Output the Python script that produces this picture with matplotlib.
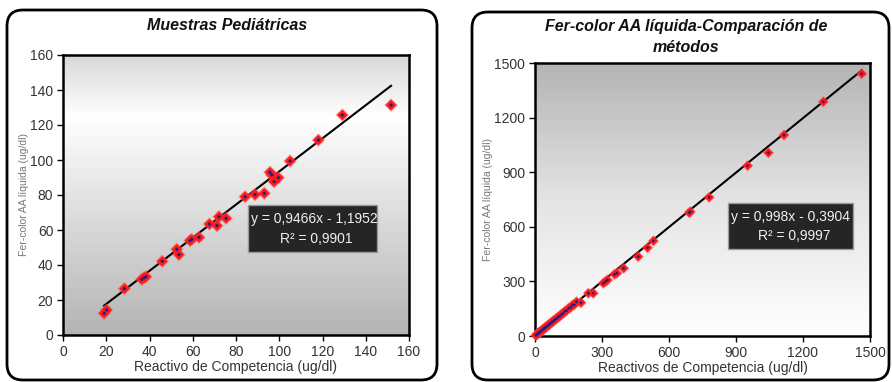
import matplotlib
matplotlib.use("Agg")
import matplotlib.pyplot as plt
import numpy as np
from matplotlib.patches import FancyBboxPatch
from matplotlib.colors import LinearSegmentedColormap

plt.rcParams['font.family'] = ['Liberation Sans', 'DejaVu Sans']

# ---------------- data ----------------
ped_title = "Muestras Pediátricas"
ped_xlabel = "Reactivo de Competencia (ug/dl)"
ped_ylabel = "Fer-color AA líquida (ug/dl)"
ped_x = [19.0, 20.2, 28.4, 36.4, 37.5, 38.4, 45.9, 52.6, 53.6, 58.7, 59.5, 62.9,
         67.7, 71.2, 72.1, 75.4, 84.2, 88.8, 93.1, 95.7, 96.5, 97.6, 99.6, 105.0,
         118.1, 129.2, 151.7]
ped_y = [12.4, 14.3, 26.5, 31.8, 32.8, 33.3, 42.1, 49.0, 45.9, 53.9, 54.6, 55.8,
         63.4, 62.5, 67.6, 66.7, 79.0, 80.2, 81.0, 93.0, 91.5, 87.6, 89.9, 99.4,
         111.4, 125.7, 131.4]
ped_slope, ped_intercept = 0.9466, -1.1952
ped_fit_range = [19.0, 151.7]
ped_eq = "y = 0,9466x - 1,1952"
ped_r2 = "R² = 0,9901"
ped_xticks = [0, 20, 40, 60, 80, 100, 120, 140, 160]
ped_yticks = [0, 20, 40, 60, 80, 100, 120, 140, 160]

cmp_title = "Fer-color AA líquida-Comparación de\nmétodos"
cmp_xlabel = "Reactivos de Competencia (ug/dl)"
cmp_ylabel = "Fer-color AA líquida (ug/dl)"
cmp_x = [4, 7, 10, 13, 16, 19, 22, 26, 29, 33, 37, 41, 45, 49, 53, 58, 63, 67,
         72, 77, 82, 87, 93, 99, 105, 112, 119, 126, 134, 142, 150, 160, 168,
         176, 186, 206, 239, 261, 306, 316, 325, 356, 367, 397, 462, 504, 530,
         691, 695, 780, 952, 1045, 1115, 1291, 1463]
cmp_y = [3, 6, 11, 12, 17, 18, 23, 25, 30, 32, 38, 40, 46, 48, 54, 57, 64, 66,
         73, 76, 83, 86, 94, 98, 106, 110, 120, 124, 136, 140, 152, 157, 170,
         172, 188, 183, 235, 235, 290, 300, 308, 339, 345, 372, 436, 485, 522,
         677, 683, 762, 936, 1007, 1104, 1287, 1441]
cmp_slope, cmp_intercept = 0.998, -0.3904
cmp_fit_range = [4, 1463]
cmp_eq = "y = 0,998x - 0,3904"
cmp_r2 = "R² = 0,9997"
cmp_xticks = [0, 300, 600, 900, 1200, 1500]
cmp_yticks = [0, 300, 600, 900, 1200, 1500]

# ---------------- figure ----------------
W, H = 893, 382
fig = plt.figure(figsize=(W / 100, H / 100), dpi=100)
fig.patch.set_facecolor("white")

bg = fig.add_axes([0, 0, 1, 1])
bg.set_xlim(0, W)
bg.set_ylim(H, 0)
bg.axis("off")
bg.add_patch(FancyBboxPatch((7, 10), 430, 370, boxstyle="round,pad=0,rounding_size=16",
                            facecolor="white", edgecolor="black", linewidth=2.0))
bg.add_patch(FancyBboxPatch((472, 12), 417, 368, boxstyle="round,pad=0,rounding_size=16",
                            facecolor="white", edgecolor="black", linewidth=2.0))


def px_axes(x0, y0, x1, y1):
    return fig.add_axes([x0 / W, (H - y1) / H, (x1 - x0) / W, (y1 - y0) / H])


def gradient(ax, colors, positions):
    cmap = LinearSegmentedColormap.from_list("g", list(zip(positions, colors)))
    grad = np.linspace(0, 1, 256).reshape(-1, 1)
    ax.imshow(grad, cmap=cmap, aspect="auto", extent=[0, 1, 0, 1],
              transform=ax.transAxes, zorder=0, origin="upper")


def style(ax, xticks, yticks, xlabel, ylabel):
    ax.set_xlim(xticks[0], xticks[-1])
    ax.set_ylim(yticks[0], yticks[-1])
    ax.set_xticks(xticks)
    ax.set_yticks(yticks)
    for s in ax.spines.values():
        s.set_linewidth(1.8)
        s.set_color("black")
    ax.tick_params(direction="out", length=4, width=1, labelsize=10,
                   labelcolor="#333333", top=False, right=False, pad=3)
    ax.set_xlabel(xlabel, fontsize=10, color="#333333", labelpad=1)
    ax.set_ylabel(ylabel, fontsize=7.5, color="#777777", labelpad=1)


def markers(ax, xs, ys, size):
    ax.scatter(xs, ys, marker="D", s=size * 1.6, color="#ff5050", edgecolors="none",
               alpha=0.55, zorder=3, clip_on=False)
    ax.scatter(xs, ys, marker="D", s=size, color="#ff1a1a", edgecolors="none",
               zorder=3, clip_on=False)
    ax.scatter(xs, ys, marker="D", s=size * 0.14, color="#1e1e8c", edgecolors="none",
               zorder=4, clip_on=False)


def eqbox(ax, x0, y0, x1, y1, l1, l2):
    fig.patches.append(FancyBboxPatch((x0 / W, (H - y1) / H), (x1 - x0) / W, (y1 - y0) / H,
                                      boxstyle="square,pad=0", facecolor="#252525",
                                      edgecolor="#9a9a9a", linewidth=1.0,
                                      transform=fig.transFigure, figure=fig, zorder=5))
    cx = (x0 + x1) / 2
    fig.text(x0 / W + 0.003, (H - (y0 + (y1 - y0) * 0.30)) / H, l1, color="#f0f0f0",
             fontsize=10, ha="left", va="center", zorder=6)
    fig.text(cx / W + 0.004, (H - (y0 + (y1 - y0) * 0.72)) / H, l2, color="#f0f0f0",
             fontsize=10, ha="center", va="center", zorder=6)


# left panel
ax1 = px_axes(63, 55, 409, 335)
gradient(ax1, ["#d8d8d8", "#ffffff", "#f2f2f2", "#b4b4b4"], [0.0, 0.22, 0.35, 1.0])
style(ax1, ped_xticks, ped_yticks, ped_xlabel, ped_ylabel)
fx = np.array(ped_fit_range)
ax1.plot(fx, ped_slope * fx + ped_intercept, color="black", lw=1.5, zorder=2)
markers(ax1, ped_x, ped_y, 30)
fig.text(227 / W, (H - 26) / H, ped_title, fontsize=11.5, fontweight="bold",
         fontstyle="italic", ha="center", va="center", color="#111111")
eqbox(ax1, 248, 205, 377, 252, ped_eq, ped_r2)

# right panel
ax2 = px_axes(535, 63, 870, 336)
gradient(ax2, ["#b4b4b4", "#e4e4e4", "#ffffff"], [0.0, 0.5, 1.0])
style(ax2, cmp_xticks, cmp_yticks, cmp_xlabel, cmp_ylabel)
fx = np.array(cmp_fit_range)
ax2.plot(fx, cmp_slope * fx + cmp_intercept, color="black", lw=1.5, zorder=2)
markers(ax2, cmp_x, cmp_y, 22)
fig.text(686 / W, (H - 37) / H, cmp_title, fontsize=11.5, fontweight="bold",
         fontstyle="italic", ha="center", va="center", color="#111111",
         linespacing=1.45)
eqbox(ax2, 728, 203, 853, 249, cmp_eq, cmp_r2)

fig.savefig("out.png", dpi=100, facecolor="white")
